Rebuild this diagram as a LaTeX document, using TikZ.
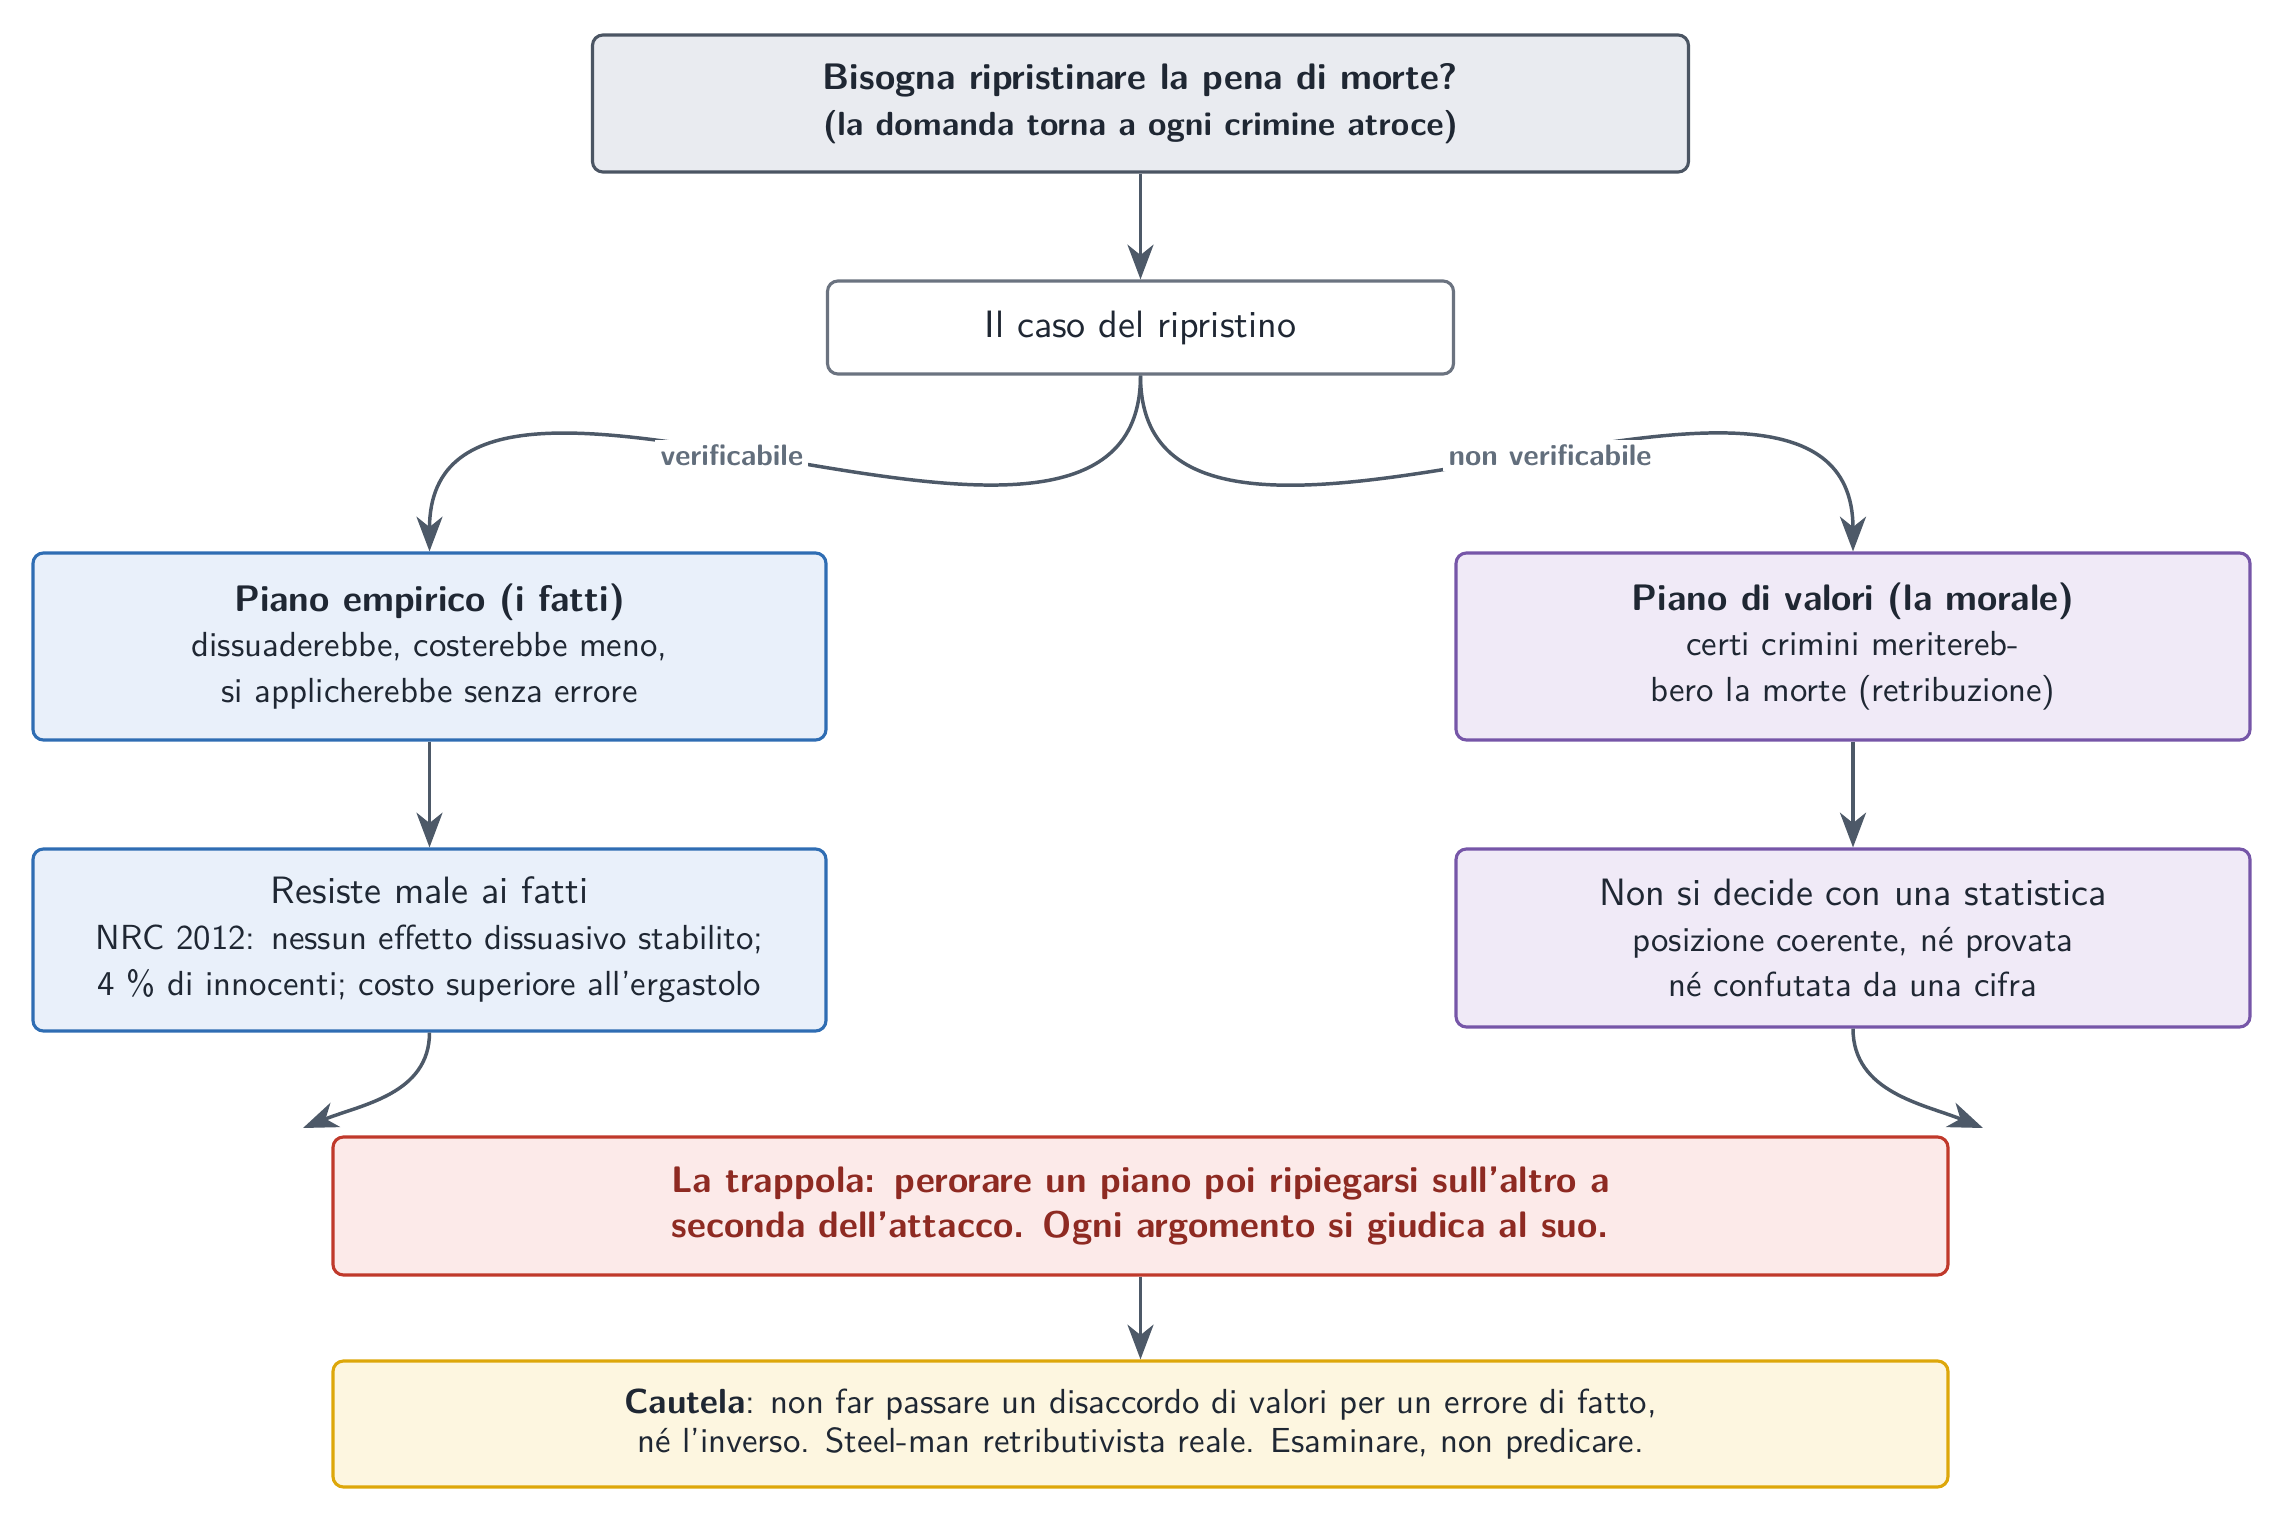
\documentclass[tikz,border=0pt]{standalone}
\usetikzlibrary{arrows.meta}
\definecolor{edgec}{HTML}{4D5968}
\definecolor{textc}{HTML}{1F2733}
\definecolor{lblc}{HTML}{626E7C}
\definecolor{topf}{HTML}{E9EBF0}
\definecolor{topb}{HTML}{4B5563}
\definecolor{grayb}{HTML}{6B7380}
\definecolor{bluef}{HTML}{E9F0FA}
\definecolor{blueb}{HTML}{2F6DB3}
\definecolor{purf}{HTML}{F0EAF7}
\definecolor{purb}{HTML}{7656A8}
\definecolor{redf}{HTML}{FCEAE9}
\definecolor{redb}{HTML}{C0392B}
\definecolor{redt}{HTML}{8E2A22}
\definecolor{yelf}{HTML}{FDF6E0}
\definecolor{yelb}{HTML}{DDA70A}
\begin{document}
\begin{tikzpicture}[x=0.28736pt,y=0.28736pt,
  box/.style={draw, rounded corners=3pt, line width=0.9pt, align=center, inner sep=2pt,
    text=textc, font=\sffamily\fontsize{10}{13.2}\selectfont},
  edge/.style={draw=edgec, line width=1pt, -{Stealth[length=10pt,width=7.5pt,inset=3pt]}},
  lbl/.style={fill=white, inner sep=1.5pt, text=lblc,
    font=\sffamily\bfseries\fontsize{8.5}{10}\selectfont}]
\path[use as bounding box] (0,0) rectangle (2283,-1524);

\node[box, draw=topb, fill=topf, minimum width={1096*0.28736pt}, minimum height={137*0.28736pt}]
  (q) at (1140.5,-103.5)
  {{\fontsize{10.6}{13.2}\selectfont\bfseries Bisogna ripristinare la pena di morte?}\\
   {\fontsize{9.6}{13.2}\selectfont\bfseries (la domanda torna a ogni crimine atroce)}};

\node[box, draw=grayb, fill=white, minimum width={626*0.28736pt}, minimum height={93*0.28736pt},
  font=\sffamily\fontsize{10.95}{13.2}\selectfont]
  (caso) at (1140.5,-327.5) {Il caso del ripristino};

\node[box, draw=blueb, fill=bluef, minimum width={793*0.28736pt}, minimum height={187*0.28736pt}]
  (emp) at (429.5,-646.5)
  {{\fontsize{10.6}{13.2}\selectfont\bfseries Piano empirico (i fatti)}\\
   dissuaderebbe, costerebbe meno,\\
   si applicherebbe senza errore};

\node[box, draw=purb, fill=purf, minimum width={794*0.28736pt}, minimum height={187*0.28736pt}]
  (val) at (1853,-646.5)
  {{\fontsize{10.6}{13.2}\selectfont\bfseries Piano di valori (la morale)}\\
   certi crimini meritereb-\\
   bero la morte (retribuzione)};

\node[box, draw=blueb, fill=bluef, minimum width={793*0.28736pt}, minimum height={182*0.28736pt}]
  (fatti) at (429.5,-940)
  {{\fontsize{10.95}{13.2}\selectfont Resiste male ai fatti}\\
   NRC 2012: nessun effetto dissuasivo stabilito;\\
   4 \% di innocenti; costo superiore all'ergastolo};

\node[box, draw=purb, fill=purf, minimum width={794*0.28736pt}, minimum height={178*0.28736pt}]
  (stat) at (1853,-938)
  {{\fontsize{10.95}{13.2}\selectfont Non si decide con una statistica}\\
   posizione coerente, n\'e provata\\
   n\'e confutata da una cifra};

\node[box, draw=redb, fill=redf, text=redt, minimum width={1615*0.28736pt}, minimum height={138*0.28736pt},
  font=\sffamily\bfseries\fontsize{10.6}{13}\selectfont]
  (trap) at (1140.5,-1206)
  {La trappola: perorare un piano poi ripiegarsi sull'altro a\\
   seconda dell'attacco. Ogni argomento si giudica al suo.};

\node[box, draw=yelb, fill=yelf, minimum width={1615*0.28736pt}, minimum height={126*0.28736pt},
  font=\sffamily\fontsize{10}{11.4}\selectfont]
  (caut) at (1140.5,-1424)
  {\textbf{Cautela}: non far passare un disaccordo di valori per un errore di fatto,\\
   n\'e l'inverso. Steel-man retributivista reale. Esaminare, non predicare.};

\coordinate (tl) at (303,-1128);
\coordinate (tr) at (1983,-1128);

\draw[edge] (q.south) -- (caso.north);
\draw[edge] (caso.south) to[out=-90,in=90] node[lbl,pos=0.55]{verificabile} (emp.north);
\draw[edge] (caso.south) to[out=-90,in=90] node[lbl,pos=0.55]{non verificabile} (val.north);
\draw[edge] (emp.south) -- (fatti.north);
\draw[edge] (val.south) -- (stat.north);
\draw[edge] (fatti.south) to[out=-90,in=22] (tl);
\draw[edge] (stat.south) to[out=-90,in=158] (tr);
\draw[edge] (trap.south) -- (caut.north);
\end{tikzpicture}
\end{document}
